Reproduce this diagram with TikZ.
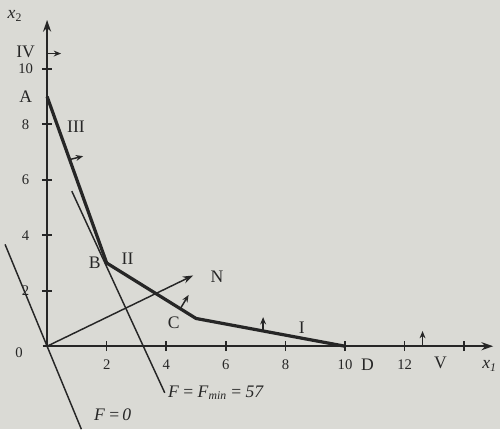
\documentclass[tikz,border=0pt]{standalone}
\usepackage{fontspec}
\setmainfont{Liberation Serif}
\usetikzlibrary{arrows.meta,positioning,calc}
\definecolor{paper}{RGB}{218,218,213}
\definecolor{ink}{RGB}{38,38,38}

\begin{document}
\begin{tikzpicture}[x=20.3pt,y=18.9pt,
  axis/.style={ink, line width=1.3pt, -{Stealth[length=8pt,width=5.5pt]}},
  tick/.style={ink, line width=1.1pt},
  bound/.style={ink, line width=2.2pt, line join=round},
  level/.style={ink, line width=1pt},
  side/.style={ink, line width=1pt, -{Stealth[length=5pt,width=4pt]}},
  num/.style={text=ink, inner sep=1pt},
  lab/.style={text=ink, inner sep=1pt, font=\large}]
\fill[paper] (-1.58,-2.99) rectangle (15.2,12.48);
\useasboundingbox (-1.58,-2.99) rectangle (15.2,12.48);

\coordinate (O) at (0,0);
\coordinate (A) at (0,9);
\coordinate (B) at (2,3);
\coordinate (C) at (5,1);
\coordinate (D) at (10,0);
\coordinate (x1end) at (14.97,0);
\coordinate (x2end) at (0,11.76);
\coordinate (Nend) at (4.9,2.55);

\draw[axis] (-0.15,0) -- (x1end);
\draw[axis] (O) -- (x2end);
\foreach \v in {2,4,...,14} \draw[tick] (\v,-0.18) -- (\v,0.18);
\foreach \v in {2,4,...,12} \node[num] at (\v,-0.68) {\v};
\foreach \v in {2,4,...,10} {
  \draw[tick] (-0.17,\v) -- (0.17,\v);
  \node[num] at (-0.72,\v) {\v};
}
\node[num] (zero) at (-0.94,-0.22) {0};
\node[lab] (x1lab) at (14.85,-0.7) {\textit{x}\textsubscript{\textit{1}}};
\node[lab] (x2lab) at (-1.08,11.9) {\textit{x}\textsubscript{2}};

\draw[bound] (A) -- (B) -- (C) -- (D);

\coordinate (f0top) at (-1.41,3.67);
\coordinate (f0bot) at (1.15,-2.99);
\draw[level] (f0top) -- (f0bot);
\coordinate (fmtop) at (0.83,5.59);
\coordinate (fmbot) at (3.95,-1.68);
\draw[level] (fmtop) -- (fmbot);
\node[lab, right=1pt of fmbot] (fmlab) {\textit{F} = \textit{F}\textsubscript{\textit{min}} = \textit{57}};
\node[lab] (f0lab) at (2.2,-2.48) {\textit{F} =\,\textit{0}};

\draw[side, -{Stealth[length=7pt,width=5pt]}] (O) -- (Nend);
\node[lab] (N) at (5.7,2.5) {N};

\draw[side] (0,10.55) -- +(0.47,0);
\draw[side] (0.76,6.73) -- +(0.45,0.12);
\draw[side] (4.47,1.35) -- +(0.28,0.5);
\draw[side] (7.25,0.55) -- +(0,0.5);
\draw[side] (12.6,0) -- +(0,0.55);

\node[lab] (IV) at (-0.72,10.6) {IV};
\node[lab, left=9pt of A] (Alab) {A};
\node[lab] (III) at (0.97,7.91) {III};
\node[lab, left=3pt of B] (Blab) {B};
\node[lab] (II) at (2.7,3.15) {II};
\node[lab] (Clab) at (4.25,0.85) {C};
\node[lab] (I) at (8.55,0.68) {I};
\node[lab] (Dlab) at (10.75,-0.68) {D};
\node[lab] (V) at (13.2,-0.6) {V};
\end{tikzpicture}
\end{document}
